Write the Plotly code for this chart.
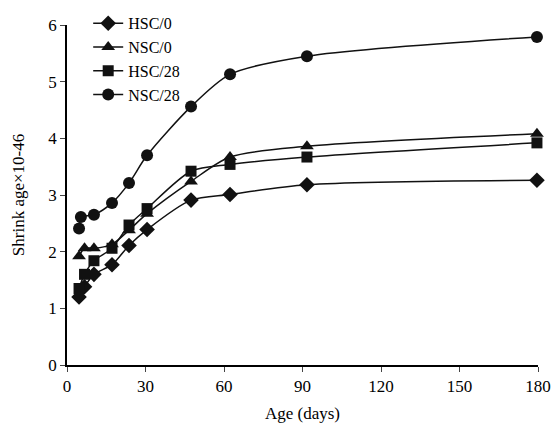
import plotly.graph_objects as go

days = [4.6, 6.7, 10.3, 17.2, 23.7, 30.6, 47.4, 62.3, 91.7, 179.6]
days_nsc28 = [4.6, 5.3, 10.3, 17.2, 23.7, 30.6, 47.4, 62.3, 91.7, 179.6]

hsc0 = [1.20, 1.38, 1.60, 1.77, 2.11, 2.39, 2.91, 3.01, 3.18, 3.26]
nsc0 = [1.92, 2.06, 2.06, 2.13, 2.38, 2.67, 3.24, 3.67, 3.86, 4.08]
hsc28 = [1.35, 1.60, 1.84, 2.06, 2.47, 2.76, 3.42, 3.54, 3.67, 3.92]
nsc28 = [2.41, 2.61, 2.65, 2.86, 3.21, 3.70, 4.56, 5.13, 5.45, 5.79]

x_ticks = [0, 30, 60, 90, 120, 150, 180]
y_ticks = [0, 1, 2, 3, 4, 5, 6]

series = [
    ("HSC/0", days, hsc0, "diamond", 12),
    ("NSC/0", days, nsc0, "triangle-up", 12),
    ("HSC/28", days, hsc28, "square", 11),
    ("NSC/28", days_nsc28, nsc28, "circle", 12),
]

FONT = "Liberation Serif, Times New Roman, serif"
fig = go.Figure()
for name, xs, ys, sym, sz in series:
    fig.add_trace(go.Scatter(
        x=xs, y=ys, name=name, mode="lines+markers",
        line=dict(color="#111", width=1.5, shape="spline", smoothing=0.8),
        marker=dict(symbol=sym, size=sz, color="#111"),
        cliponaxis=False,
    ))

fig.update_layout(
    width=555, height=430,
    margin=dict(l=67, r=17, t=25, b=65, autoexpand=False),
    paper_bgcolor="white", plot_bgcolor="white",
    font=dict(family=FONT, size=17, color="black"),
    showlegend=True,
    legend=dict(x=0.045, y=1.055, xanchor="left", yanchor="top",
                bgcolor="rgba(0,0,0,0)", font=dict(size=16, family=FONT),
                tracegroupgap=0, itemwidth=30),
    xaxis=dict(range=[0, 180], tickvals=x_ticks, ticks="outside", ticklen=5,
               showline=True, linecolor="black", linewidth=1.5, showgrid=False,
               zeroline=False, automargin=False,
               title=dict(text="Age (days)", standoff=12, font=dict(size=17)),
               tickfont=dict(size=17)),
    yaxis=dict(range=[0, 6], tickvals=y_ticks, ticks="outside", ticklen=5,
               showline=True, linecolor="black", linewidth=1.5, showgrid=False,
               zeroline=False, automargin=False,
               title=dict(text="Shrink age×10-46", standoff=19, font=dict(size=17)),
               tickfont=dict(size=17)),
)
fig.write_html("out.html", config={"displayModeBar": False},
               post_script="document.body.style.margin='0';document.body.style.overflow='hidden';")
